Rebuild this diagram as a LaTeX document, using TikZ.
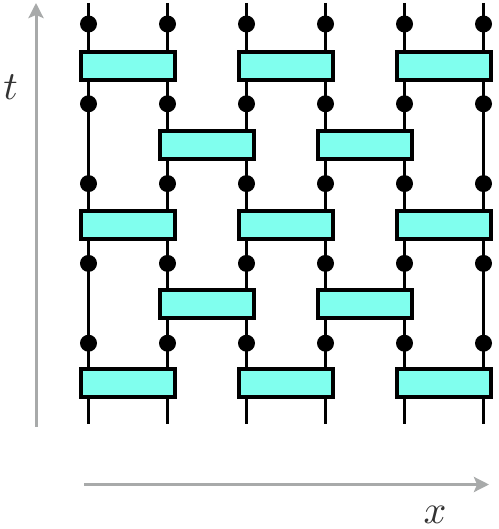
\documentclass[tikz,border=0pt]{standalone}
\usetikzlibrary{arrows.meta}
\definecolor{boxfill}{RGB}{128,255,238}
\definecolor{axisgray}{RGB}{168,170,170}
\begin{document}
\begin{tikzpicture}[x=1pt,y=1pt,
  wire/.style={line width=3pt,black},
  gate/.style={rectangle,draw=black,line width=4pt,fill=boxfill,minimum width=94pt,minimum height=28pt,inner sep=0pt,outer sep=0pt},
  dot/.style={circle,fill=black,minimum size=17pt,inner sep=0pt},
  axis/.style={line width=3pt,axisgray,-{Stealth[length=15pt,width=15pt,inset=3pt]}},
  lab/.style={anchor=base,inner sep=0pt,scale=4,text=black!80}]
\useasboundingbox (0,0) rectangle (498,-529);
% wires
\foreach \i in {0,...,5}{
  \coordinate (top\i) at ({88.5+79*\i},-3);
  \coordinate (bot\i) at ({88.5+79*\i},-424);
  \draw[wire] (top\i) -- (bot\i);
}
% gates
\foreach \r in {0,2,4}{
  \foreach \p in {0,1,2}{
    \node[gate] (g\r\p) at ({128+158*\p},{-66-79.3*\r}) {};
  }
}
\foreach \r in {1,3}{
  \foreach \p in {0,1}{
    \node[gate] (g\r\p) at ({207+158*\p},{-66-79.3*\r}) {};
  }
}
% dots
\foreach \k in {0,...,4}{
  \foreach \i in {0,...,5}{
    \node[dot] (d\k\i) at ({88.5+79*\i},{-24-79.8*\k}) {};
  }
}
% axes
\coordinate (ts) at (36,-427);
\coordinate (te) at (36,-3);
\coordinate (xs) at (84,-484.5);
\coordinate (xe) at (489,-484.5);
\draw[axis] (ts) -- (te);
\draw[axis] (xs) -- (xe);
\node[lab] (tl) at (10.5,-100) {$t$};
\node[lab] (xl) at (435,-523.5) {$x$};
\end{tikzpicture}
\end{document}
